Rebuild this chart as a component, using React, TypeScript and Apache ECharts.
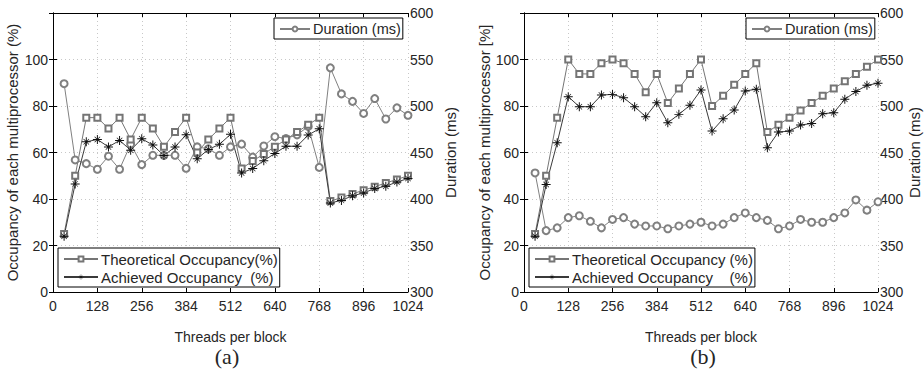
import React, { useEffect, useRef } from "react";
import * as echarts from "echarts";

// Threads per block (x values)
const threads = [32, 64, 96, 128, 160, 192, 224, 256, 288, 320, 352, 384, 416, 448, 480, 512,
  544, 576, 608, 640, 672, 704, 736, 768, 800, 832, 864, 896, 928, 960, 992, 1024];

// (a)
const theoreticalA = [25, 50, 75, 75, 70.3, 75, 65.6, 75, 70.3, 62.5, 68.8, 75, 60, 65.6, 70.3, 75,
  53.1, 56.3, 59.4, 62.5, 65.6, 68.8, 71.9, 75, 39.1, 40.6, 42.2, 43.8, 45.3, 46.9, 48.4, 50];
const achievedA = [24, 46.5, 64.6, 65.6, 62.4, 65.2, 61, 65.9, 63.2, 58.7, 62.4, 67.6, 57.3, 61.3, 63.5, 67.8,
  51.2, 53.1, 56.5, 59.6, 62.7, 62.7, 67.5, 70.2, 38.3, 39.4, 41.4, 42.6, 44.5, 45.5, 47.3, 48.8];
const durationA = [524, 442, 438, 432, 446, 432, 459, 437, 447, 447, 447, 433, 456, 454, 447, 456,
  459, 445, 457, 467, 465, 469, 478, 434, 541, 513, 505, 492, 508, 486, 498, 490];

// (b)
const theoreticalB = [25, 50, 75, 100, 93.8, 93.8, 98.4, 100, 98.4, 93.8, 85.9, 93.8, 81.3, 87.5, 93.8, 100,
  80, 84.4, 89.1, 93.8, 98.4, 68.8, 71.9, 75, 78.1, 81.3, 84.4, 87.5, 90.6, 93.8, 96.9, 100];
const achievedB = [24, 46.2, 64.2, 84, 79.7, 79.7, 84.7, 85, 83.6, 79.7, 75.4, 81.4, 72.8, 76.4, 80.3, 86.9,
  69.2, 74.5, 78.3, 86.5, 87.2, 62, 68.8, 69.2, 71.8, 72.5, 76.7, 77.1, 82.9, 86.2, 88.9, 89.8];
const durationB = [428, 366, 369, 380, 382, 376, 369, 378, 380, 373, 371, 371, 368, 371, 373, 375,
  371, 373, 380, 385, 380, 377, 368, 371, 378, 375, 375, 380, 385, 399, 388, 397];

const NAME_DUR = "Duration (ms)";
const NAME_TH_A = "Theoretical Occupancy(%)";
const NAME_TH_B = "Theoretical Occupancy (%)";
const NAME_AC_A = "Achieved Occupancy\u00a0\u00a0(%)";
const NAME_AC_B = "Achieved Occupancy\u00a0\u00a0\u00a0\u00a0(%)";
const LEFT_TITLE_A = "Occupancy of each multiprocessor (%)";
const LEFT_TITLE_B = "Occupancy of each multiprocessor [%]";
const X_TITLE = "Threads per block";
const CAPTION_A = "(a)";
const CAPTION_B = "(b)";

const FONT = "'Liberation Sans', Arial, sans-serif";
const SERIF = "'Liberation Serif', 'DejaVu Serif', serif";
const TXT = "#262626";
const PLUS =
  "path://M-0.55,-5H0.55V-0.55H5V0.55H0.55V5H-0.55V0.55H-5V-0.55H-0.55Z M-3.3,-2.8L-2.8,-3.3L3.3,2.8L2.8,3.3Z M2.8,-3.3L3.3,-2.8L-2.8,3.3L-3.3,2.8Z";

const pairs = (ys: number[]) => threads.map((t, i) => [t, ys[i]]);

function bottomX(gridIndex: number) {
  return {
    type: "value",
    gridIndex,
    position: "bottom",
    min: 0,
    max: 1024,
    interval: 128,
    name: X_TITLE,
    nameLocation: "middle",
    nameGap: 38,
    nameTextStyle: { fontFamily: FONT, fontSize: 14, color: TXT },
    axisLine: { show: true, lineStyle: { color: "#000", width: 1 } },
    axisTick: { show: true, inside: true, length: 4, lineStyle: { color: "#000" } },
    axisLabel: { fontFamily: FONT, fontSize: 14, color: TXT, margin: 7, formatter: (v: number) => String(v) },
    splitLine: { show: true, lineStyle: { color: "#c8c8c8", type: [1, 3], width: 1 } },
  };
}
function topX(gridIndex: number) {
  return {
    type: "value",
    gridIndex,
    position: "top",
    min: 0,
    max: 1024,
    interval: 128,
    axisLine: { show: true, lineStyle: { color: "#000", width: 1 } },
    axisTick: { show: true, inside: true, length: 4, lineStyle: { color: "#000" } },
    axisLabel: { show: false },
    splitLine: { show: false },
  };
}
function leftY(gridIndex: number, title: string, gap: number) {
  return {
    type: "value",
    gridIndex,
    position: "left",
    min: 0,
    max: 120,
    interval: 20,
    name: title,
    nameLocation: "middle",
    nameGap: gap,
    nameTextStyle: { fontFamily: FONT, fontSize: 15, color: TXT },
    axisLine: { show: true, lineStyle: { color: "#000", width: 1 } },
    axisTick: { show: true, inside: true, length: 4, lineStyle: { color: "#000" } },
    axisLabel: {
      fontFamily: FONT, fontSize: 14, color: TXT, margin: 5,
      formatter: (v: number) => (v === 120 ? "" : String(v)),
    },
    splitLine: { show: true, lineStyle: { color: "#c8c8c8", type: [1, 3], width: 1 } },
  };
}
function rightY(gridIndex: number, gap: number) {
  return {
    type: "value",
    gridIndex,
    position: "right",
    min: 300,
    max: 600,
    interval: 50,
    name: NAME_DUR,
    nameLocation: "middle",
    nameGap: gap,
    nameRotate: 90,
    nameTextStyle: { fontFamily: FONT, fontSize: 15, color: TXT },
    axisLine: { show: true, lineStyle: { color: "#000", width: 1 } },
    axisTick: { show: true, inside: true, length: 4, lineStyle: { color: "#000" } },
    axisLabel: { fontFamily: FONT, fontSize: 14, color: TXT, margin: 2 },
    splitLine: { show: false },
  };
}

function seriesSet(xi: number, yl: number, yr: number, th: number[], ac: number[], du: number[], thName: string, acName: string) {
  return [
    {
      name: NAME_DUR, type: "line", xAxisIndex: xi, yAxisIndex: yr, data: pairs(du),
      symbol: "emptyCircle", symbolSize: 7,
      lineStyle: { color: "#808080", width: 1 },
      itemStyle: { color: "#808080", borderWidth: 1 },
    },
    {
      name: thName, type: "line", xAxisIndex: xi, yAxisIndex: yl, data: pairs(th),
      symbol: "emptyRect", symbolSize: 6,
      lineStyle: { color: "#757575", width: 1 },
      itemStyle: { color: "#757575", borderWidth: 1 },
    },
    {
      name: acName, type: "line", xAxisIndex: xi, yAxisIndex: yl, data: pairs(ac),
      symbol: PLUS, symbolSize: 9,
      lineStyle: { color: "#3a3a3a", width: 1 },
      itemStyle: { color: "#111" },
    },
  ];
}

function legendBox(left: number, top: number, names: string[], width: number, fontSize: number) {
  return {
    show: true,
    orient: "vertical",
    left,
    top,
    data: names,
    selectedMode: false,
    backgroundColor: "#fff",
    borderColor: "#000",
    borderWidth: 1,
    borderRadius: 0,
    padding: [3, 2, 2, 5],
    itemGap: 2,
    itemWidth: width,
    itemHeight: 6,
    textStyle: { fontFamily: FONT, fontSize, lineHeight: 16, color: TXT, padding: [0, 0, 0, -2] },
  };
}

export default function App() {
  const ref = useRef<HTMLDivElement>(null);
  useEffect(() => {
    if (!ref.current) return;
    const chart = echarts.init(ref.current, undefined, { renderer: "svg" });
    chart.setOption({
      animation: false,
      backgroundColor: "#fff",
      grid: [
        { left: 53, top: 13, width: 355, height: 279 },
        { left: 524, top: 13, width: 354, height: 279 },
      ],
      xAxis: [bottomX(0), topX(0), bottomX(1), topX(1)],
      yAxis: [leftY(0, LEFT_TITLE_A, 33), rightY(0, 35), leftY(1, LEFT_TITLE_B, 31), rightY(1, 25)],
      legend: [
        legendBox(274, 18, [NAME_DUR], 30, 14.5),
        legendBox(58, 248, [NAME_TH_A, NAME_AC_A], 34, 15),
        legendBox(746, 18, [NAME_DUR], 30, 14.5),
        legendBox(529, 248, [NAME_TH_B, NAME_AC_B], 34, 15),
      ],
      series: [
        ...seriesSet(0, 0, 1, theoreticalA, achievedA, durationA, NAME_TH_A, NAME_AC_A),
        ...seriesSet(2, 2, 3, theoreticalB, achievedB, durationB, NAME_TH_B, NAME_AC_B),
      ],
      graphic: [
        { type: "text", x: 227, y: 356, style: { text: CAPTION_A, fontFamily: SERIF, fontSize: 22, fill: TXT, align: "center", verticalAlign: "middle" } },
        { type: "text", x: 703, y: 356, style: { text: CAPTION_B, fontFamily: SERIF, fontSize: 22, fill: TXT, align: "center", verticalAlign: "middle" } },
      ],
    });
    return () => chart.dispose();
  }, []);
  return <div ref={ref} style={{ position: "absolute", left: 0, top: 0, width: 924, height: 371 }} />;
}
